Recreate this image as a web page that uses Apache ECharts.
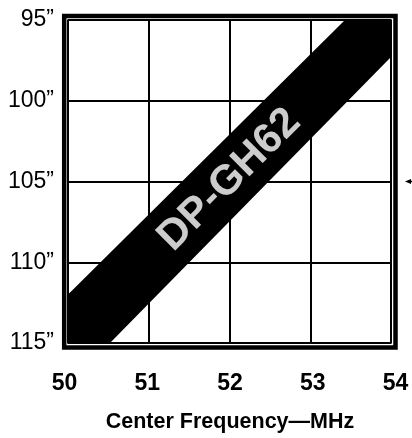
<!DOCTYPE html>
<html>
<head>
<meta charset="utf-8">
<script src="https://cdn.jsdelivr.net/npm/echarts@6/dist/echarts.min.js"></script>
<style>
html,body{margin:0;padding:0;background:#fff;}
#c{width:412px;height:438px;}
</style>
</head>
<body>
<div id="c"></div>
<script>
// Axis ticks
const freqTicks = [50, 51, 52, 53, 54];          // MHz
const lengthTicks = [95, 100, 105, 110, 115];    // inches
// Band edges (frequency MHz, length inches)
const bandUpperEdge = [[50, 112.0], [53.43, 95]];
const bandLowerEdge = [[50.52, 115], [54, 97.29]];
const bandLabel = 'DP-GH62';
const bandLabelPoint = [[52.0, 104.9]];
const xTitle = 'Center Frequency\u2014MHz';
const markerLength = [105];

const FONT = '"Liberation Sans", Arial, sans-serif';
const bandPolygon = [
  bandUpperEdge[0], bandUpperEdge[1],
  [freqTicks[freqTicks.length - 1], lengthTicks[0]],
  bandLowerEdge[1], bandLowerEdge[0],
  [freqTicks[0], lengthTicks[lengthTicks.length - 1]]
];

const chart = echarts.init(document.getElementById('c'), null, {renderer: 'canvas'});
const GL = 68, GT = 20, GW = 323, GH = 323;
chart.setOption({
  animation: false,
  backgroundColor: '#fff',
  grid: [
    {left: GL, top: GT, width: GW, height: GH},
    {left: 64.5, top: GT, width: 331, height: GH}
  ],
  xAxis: [
    {type: 'value', gridIndex: 0, min: freqTicks[0], max: freqTicks[freqTicks.length - 1], interval: 1,
     axisLine: {show: false}, axisTick: {show: false}, axisLabel: {show: false},
     splitLine: {show: true, lineStyle: {color: '#000', width: 2}}},
    {type: 'value', gridIndex: 1, min: freqTicks[0], max: freqTicks[freqTicks.length - 1], interval: 1,
     axisLine: {show: false}, axisTick: {show: false}, splitLine: {show: false},
     axisLabel: {show: true, margin: 35, color: '#000', fontSize: 23, fontWeight: 'bold', fontFamily: FONT},
     name: xTitle, nameLocation: 'middle', nameGap: 74,
     nameTextStyle: {color: '#000', fontSize: 21.5, fontWeight: 'bold', fontFamily: FONT}}
  ],
  yAxis: [
    {type: 'value', gridIndex: 0, inverse: true, min: lengthTicks[0], max: lengthTicks[lengthTicks.length - 1], interval: 5,
     axisLine: {show: false}, axisTick: {show: false},
     axisLabel: {show: true, margin: 14, color: '#000', fontSize: 23, fontFamily: FONT,
                 formatter: v => v + '\u201D'},
     splitLine: {show: true, lineStyle: {color: '#000', width: 2}}},
    {type: 'value', gridIndex: 1, inverse: true, min: lengthTicks[0], max: lengthTicks[lengthTicks.length - 1], show: false}
  ],
  series: [
    {
      type: 'custom', xAxisIndex: 0, yAxisIndex: 0, clip: true,
      data: bandPolygon,
      renderItem: function (params, api) {
        if (params.dataIndexInside !== 0) return null;
        const pts = bandPolygon.map(p => api.coord(p));
        return {type: 'polygon', shape: {points: pts}, style: {fill: '#000'}};
      },
      z: 3
    },
    {
      type: 'scatter', xAxisIndex: 0, yAxisIndex: 0, symbolSize: 0,
      data: bandLabelPoint,
      label: {show: true, position: 'inside', rotate: 45, formatter: bandLabel,
              color: '#fff', fontSize: 42, fontWeight: 'bold', fontFamily: FONT},
      z: 4, silent: true
    }
  ]
});

const p0 = chart.convertToPixel({gridIndex: 0}, [freqTicks[0], lengthTicks[0]]);
const p1 = chart.convertToPixel({gridIndex: 0}, [freqTicks[freqTicks.length - 1], lengthTicks[lengthTicks.length - 1]]);
const ym = chart.convertToPixel({yAxisIndex: 0}, markerLength[0]);
const x0 = p0[0], y0 = p0[1], x1 = p1[0], y1 = p1[1];
chart.setOption({
  graphic: [
    {type: 'rect', z: 100, shape: {x: x0, y: y0, width: x1 - x0, height: y1 - y0},
     style: {fill: null, stroke: '#000', lineWidth: 1.5}},
    {type: 'rect', z: 100, shape: {x: x0 - 3.8, y: y0 - 4, width: (x1 - x0) + 3.8 + 4.5, height: (y1 - y0) + 4 + 4.5},
     style: {fill: null, stroke: '#000', lineWidth: 4.5}},
    {type: 'polygon', z: 100, shape: {points: [[x1 + 14, ym], [x1 + 20, ym - 2.5], [x1 + 20, ym + 2.5]]},
     style: {fill: '#000'}},
    {type: 'line', z: 100, shape: {x1: x1 + 19, y1: ym, x2: x1 + 22, y2: ym},
     style: {stroke: '#000', lineWidth: 1.5}}
  ]
});
</script>
</body>
</html>
